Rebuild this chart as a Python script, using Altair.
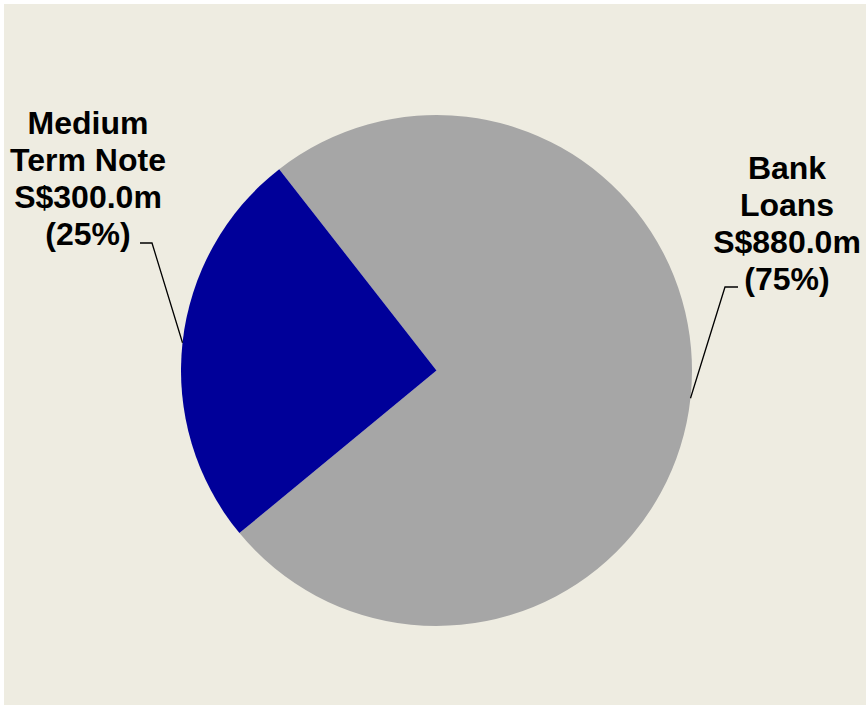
import math
import altair as alt
import pandas as pd

# ---- data ----
categories = ["Bank Loans", "Medium Term Note"]
label_names = ["Bank\nLoans", "Medium\nTerm Note"]
amounts = [880.0, 300.0]
colors = ["#A6A6A6", "#000099"]

# ---- layout (pixel positions in plot area) ----
W, H = 862, 701
CX, CY, R = 432.5, 366.5, 255.5
START_DEG = -38.0
start = math.radians(START_DEG)
label_pos = [(783, 175), (84, 130)]           # text centre x, first baseline y
elbow = [[(721, 283), (734, 283)], [(148, 239), (136, 239)]]

total = sum(amounts)
rows, line_rows, text_rows = [], [], []
cum = 0.0
for i, (c, ln, a, col) in enumerate(zip(categories, label_names, amounts, colors)):
    pct = round(100 * a / total)
    rows.append({"cat": c, "amount": a, "order": i})
    mid = start + 2 * math.pi * (cum + a / 2) / total
    cum += a
    ex, ey = CX + R * math.sin(mid), CY - R * math.cos(mid)
    pts = [(ex, ey)] + elbow[i]
    for k, (px, py) in enumerate(pts):
        line_rows.append({"cat": c, "k": k, "x": px, "y": py})
    text_rows.append({"cat": c, "x": label_pos[i][0], "y": label_pos[i][1],
                      "label": f"{ln}\nS${a:.1f}m\n({pct}%)"})

df = pd.DataFrame(rows)
lines = pd.DataFrame(line_rows)
texts = pd.DataFrame(text_rows)

xs = alt.Scale(domain=[0, W], range=[0, W])
ys = alt.Scale(domain=[0, H], range=[0, H])

pie = alt.Chart(df).mark_arc(radius=R, stroke=None).encode(
    theta=alt.Theta("amount:Q", stack=True,
                    scale=alt.Scale(range=[start, start + 2 * math.pi])),
    order=alt.Order("order:Q"),
    color=alt.Color("cat:N", scale=alt.Scale(domain=categories, range=colors), legend=None),
    x=alt.value(CX), y=alt.value(CY),
)

leader = alt.Chart(lines).mark_line(color="#000000", strokeWidth=1.3).encode(
    x=alt.X("x:Q", scale=xs, axis=None),
    y=alt.Y("y:Q", scale=ys, axis=None),
    detail="cat:N",
    order="k:Q",
)

text = alt.Chart(texts).mark_text(
    font="Liberation Sans", fontWeight="bold", fontSize=32, lineBreak="\n",
    lineHeight=37, align="center", baseline="alphabetic", color="#000000",
).encode(
    x=alt.X("x:Q", scale=xs, axis=None),
    y=alt.Y("y:Q", scale=ys, axis=None),
    text="label:N",
)

chart = alt.layer(pie, leader, text).properties(
    width=W, height=H,
    autosize=alt.AutoSizeParams(type="none"),
    padding={"left": 4, "top": 4, "right": 0, "bottom": 2},
    background="#FFFFFF",
).configure_view(fill="#EEECE1", stroke=None)

chart.save("out.html", embed_options={"renderer": "svg", "actions": False})
